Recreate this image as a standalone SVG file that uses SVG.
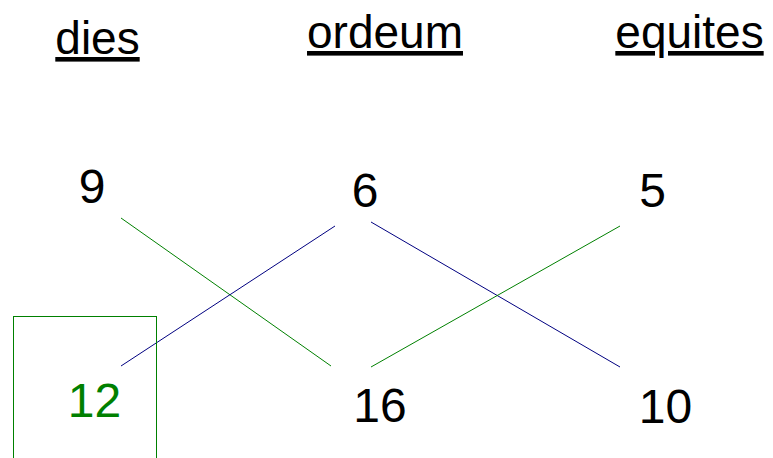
<svg xmlns="http://www.w3.org/2000/svg" width="773" height="458" viewBox="0 0 773 458">
<style>
.hdr{font-family:"Liberation Sans",Arial,sans-serif;font-size:46px;fill:#000;text-anchor:middle;text-decoration:underline}
.num{font-family:"Liberation Sans",Arial,sans-serif;font-size:48px;fill:#000;text-anchor:middle}
.g{stroke:#008000;stroke-width:1;fill:none}
.b{stroke:#000080;stroke-width:1;fill:none}
</style>
<rect width="773" height="458" fill="#fff"/>
<g id="headers">
<text class="hdr" x="97.5" y="54">dies</text>
<text class="hdr" x="385" y="48">ordeum</text>
<text class="hdr" x="689.5" y="48">equites</text>
</g>
<g id="connectors">
<line class="g" x1="121" y1="218" x2="331" y2="366"/>
<line class="b" x1="335" y1="226" x2="121" y2="366"/>
<line class="b" x1="371" y1="222" x2="620" y2="367"/>
<line class="g" x1="620" y1="226" x2="371" y2="367"/>
</g>
<g id="n9"><text class="num" x="92" y="203">9</text></g>
<g id="n6"><text class="num" x="365" y="207">6</text></g>
<g id="n5"><text class="num" x="652.5" y="207">5</text></g>
<g id="n12"><rect class="g" x="13.5" y="316.5" width="143" height="150"/><text class="num" x="94.5" y="417" style="fill:#008000">12</text></g>
<g id="n16"><text class="num" x="380" y="422">16</text></g>
<g id="n10"><text class="num" x="665.5" y="423">10</text></g>
</svg>
